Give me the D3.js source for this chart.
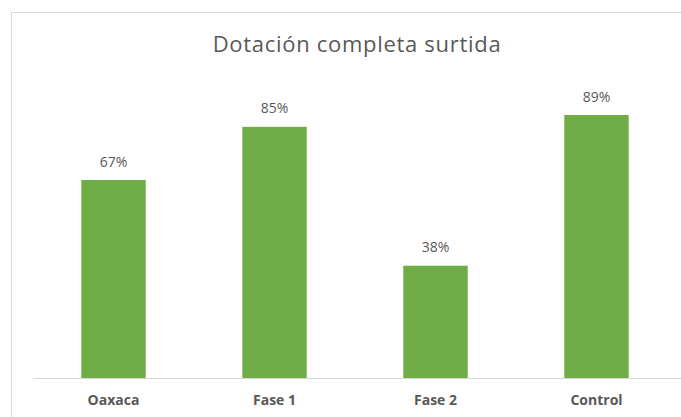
<!DOCTYPE html>
<html>
<head>
<meta charset="utf-8">
<script src="https://cdn.jsdelivr.net/npm/d3@7"></script>
<style>
  body { margin: 0; background: #fff; }
  text { font-family: "Open Sans", sans-serif; fill: #595959; }
</style>
</head>
<body>
<div id="vis"></div>
<script>
// Chart data
const CATEGORIES = ["Oaxaca", "Fase 1", "Fase 2", "Control"];
const VALUES = [0.67, 0.85, 0.38, 0.89];

const FRAME_WIDTH = 681;
const FRAME_HEIGHT = 417;

const MARGINS = {left: 33, right: 4, top: 82.5, bottom: 39};

const FRAME = d3.select("#vis")
                .append("svg")
                .attr("width", FRAME_WIDTH)
                .attr("height", FRAME_HEIGHT);

// Chart area border
FRAME.append("rect")
     .attr("x", 11.5)
     .attr("y", 12.5)
     .attr("width", FRAME_WIDTH)
     .attr("height", FRAME_HEIGHT)
     .attr("fill", "none")
     .attr("stroke", "#d9d9d9");

// Title
FRAME.append("text")
     .attr("x", 357)
     .attr("y", 52)
     .attr("text-anchor", "middle")
     .attr("font-size", "22px")
     .attr("letter-spacing", "0.7px")
     .text("Dotación completa surtida");

// Scales
const X_SCALE = d3.scaleBand()
                  .domain(CATEGORIES)
                  .range([MARGINS.left, FRAME_WIDTH - MARGINS.right])
                  .paddingInner(0.6)
                  .paddingOuter(0.3);

const Y_SCALE = d3.scaleLinear()
                  .domain([0, 1])
                  .range([FRAME_HEIGHT - MARGINS.bottom, MARGINS.top]);

// Bars
FRAME.append("g").selectAll("rect")
     .data(VALUES)
     .enter()
     .append("rect")
       .attr("x", (d, i) => X_SCALE(CATEGORIES[i]))
       .attr("y", (d) => Y_SCALE(d))
       .attr("width", X_SCALE.bandwidth())
       .attr("height", (d) => Y_SCALE(0) - Y_SCALE(d))
       .attr("fill", "#70ad47");

// Value labels
FRAME.append("g").selectAll("text")
     .data(VALUES)
     .enter()
     .append("text")
       .attr("x", (d, i) => X_SCALE(CATEGORIES[i]) + X_SCALE.bandwidth() / 2)
       .attr("y", (d) => Y_SCALE(d) - 13.5)
       .attr("text-anchor", "middle")
       .attr("font-size", "14px")
       .text((d) => d3.format(".0%")(d));

// X axis
const xAxis = FRAME.append("g")
     .attr("transform", "translate(0," + Y_SCALE(0) + ")")
     .call(d3.axisBottom(X_SCALE).tickSize(0).tickPadding(17.5));

xAxis.select(".domain")
     .attr("d", "M" + MARGINS.left + ",0.5H" + FRAME_WIDTH)
     .attr("stroke", "#d9d9d9");

xAxis.selectAll("text")
     .attr("font-size", "14px")
     .attr("font-weight", "bold")
     .attr("font-family", "'Open Sans', sans-serif")
     .attr("fill", "#595959");
</script>
</body>
</html>
